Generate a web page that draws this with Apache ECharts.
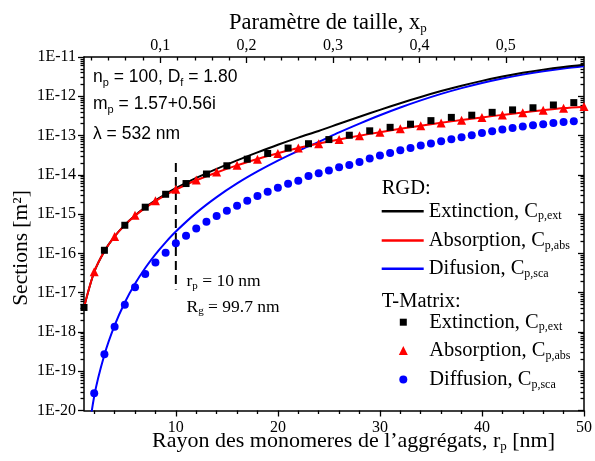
<!DOCTYPE html>
<html>
<head>
<meta charset="utf-8">
<script src="https://cdn.jsdelivr.net/npm/echarts@6/dist/echarts.min.js"></script>
<style>
html,body{margin:0;padding:0;background:#fff;}
#chart{width:595px;height:461px;}
</style>
</head>
<body>
<div id="chart"></div>
<script>
// ---- data ----
const R_RGD = [1,2,3,4,5,6,7,8,9,10,12,14,16,18,20,22,24,26,28,30,32,34,36,38,40,42,44,46,48,50];
const EXT_RGD = [4.2e-18,3.36e-17,1.14e-16,2.70e-16,5.31e-16,9.24e-16,1.48e-15,2.24e-15,3.25e-15,4.56e-15,8.34e-15,1.42e-14,2.34e-14,3.74e-14,5.85e-14,8.88e-14,1.31e-13,1.99e-13,3.01e-13,4.50e-13,6.65e-13,9.63e-13,1.36e-12,1.86e-12,2.47e-12,3.18e-12,3.95e-12,4.77e-12,5.58e-12,6.36e-12];
const ABS_RGD = [4.2e-18,3.36e-17,1.13e-16,2.69e-16,5.25e-16,9.07e-16,1.44e-15,2.15e-15,3.06e-15,4.2e-15,7.26e-15,1.15e-14,1.74e-14,2.52e-14,3.55e-14,4.8e-14,6.25e-14,7.95e-14,9.95e-14,1.22e-13,1.49e-13,1.78e-13,2.12e-13,2.48e-13,2.90e-13,3.36e-13,3.87e-13,4.42e-13,5.0e-13,5.45e-13];
const SCA_RGD = [3.6e-22,2.30e-20,2.62e-19,1.47e-18,5.63e-18,1.68e-17,4.24e-17,9.44e-17,1.91e-16,3.6e-16,1.075e-15,2.71e-15,6.04e-15,1.22e-14,2.30e-14,4.08e-14,6.9e-14,1.20e-13,2.01e-13,3.28e-13,5.16e-13,7.85e-13,1.15e-12,1.61e-12,2.18e-12,2.84e-12,3.56e-12,4.33e-12,5.08e-12,5.81e-12];

const R_TM_EXT = [1,3,5,7,9,11,13,15,17,19,21,23,25,27,29,31,33,35,37,39,41,43,45,47,49];
const EXT_TM = [4.2e-18,1.2e-16,5.2e-16,1.5e-15,3.2e-15,6.0e-15,1.05e-14,1.7e-14,2.5e-14,3.5e-14,4.8e-14,6.2e-14,7.9e-14,1.02e-13,1.32e-13,1.62e-13,1.95e-13,2.4e-13,2.9e-13,3.3e-13,3.9e-13,4.5e-13,5.1e-13,6.0e-13,6.9e-13];
const R_TM_ABS = [2,4,6,8,10,12,14,16,18,20,22,24,26,28,30,32,34,36,38,40,42,44,46,48,50];
const ABS_TM = [3.4e-17,2.7e-16,9.3e-16,2.2e-15,4.3e-15,7.4e-15,1.18e-14,1.76e-14,2.5e-14,3.5e-14,4.8e-14,6.2e-14,7.9e-14,9.9e-14,1.22e-13,1.48e-13,1.77e-13,2.1e-13,2.47e-13,2.88e-13,3.33e-13,3.83e-13,4.38e-13,4.95e-13,5.5e-13];
const R_TM_SCA = [2,3,4,5,6,7,8,9,10,11,12,13,14,15,16,17,18,19,20,21,22,23,24,25,26,27,28,29,30,31,32,33,34,35,36,37,38,39,40,41,42,43,44,45,46,47,48,49];
const SCA_TM = [2.75e-20,2.7e-19,1.35e-18,4.9e-18,1.38e-17,3.0e-17,5.9e-17,1.04e-16,1.8e-16,2.8e-16,4.3e-16,6.4e-16,8.9e-16,1.22e-15,1.63e-15,2.2e-15,2.9e-15,3.7e-15,4.7e-15,5.9e-15,7.1e-15,9.3e-15,1.10e-14,1.29e-14,1.55e-14,1.78e-14,2.13e-14,2.6e-14,3.1e-14,3.6e-14,4.2e-14,4.8e-14,5.6e-14,6.3e-14,7.2e-14,8.1e-14,9.1e-14,1.02e-13,1.17e-13,1.29e-13,1.42e-13,1.55e-13,1.70e-13,1.82e-13,1.95e-13,2.08e-13,2.2e-13,2.3e-13];

const MARK_R = 10;                 // r_p = 10 nm marker
const MARK_Y = [2e-14, 1.2e-17];

// ---- axes ticks / labels ----
const X_MIN = 1, X_MAX = 50;
const X_TICKS = [10,20,30,40,50];
const X_MINOR = [2,4,6,8,12,14,16,18,22,24,26,28,32,34,36,38,42,44,46,48];
const LAMBDA = 532;
const XP_MIN = 2*Math.PI*X_MIN/LAMBDA, XP_MAX = 2*Math.PI*X_MAX/LAMBDA;
const XP_TICKS = [0.1,0.2,0.3,0.4,0.5];
const XP_MINOR = [0.02,0.04,0.06,0.08,0.12,0.14,0.16,0.18,0.22,0.24,0.26,0.28,0.32,0.34,0.36,0.38,0.42,0.44,0.46,0.48,0.52,0.54,0.56,0.58];
const Y_DECADES = [1e-20,1e-19,1e-18,1e-17,1e-16,1e-15,1e-14,1e-13,1e-12,1e-11];
const Y_MINOR = [];
Y_DECADES.slice(0,-1).forEach(d => { for (let k=2;k<=9;k++) Y_MINOR.push(k*d); });

const SERIF = 'Liberation Serif', SANS = 'Liberation Sans';
const BLACK = '#000000', RED = '#ff0000', BLUE = '#0000ff';

const zip = (a,b) => a.map((v,i)=>[v,b[i]]);

const chart = echarts.init(document.getElementById('chart'), null, {renderer:'canvas'});

const axisLineStyle = {color:BLACK, width:1.5};
function xAx(pos, min, max, ticks, len, inside, labels, fmt, margin, showLine) {
  return {
    type:'value', position:pos, min:min, max:max,
    axisLine:{show:showLine, onZero:false, lineStyle:axisLineStyle},
    axisTick:{show:true, inside:inside, length:len, customValues:ticks, lineStyle:{color:BLACK, width:1.3}},
    axisLabel: labels ? {show:true, customValues:labels, margin:margin, color:BLACK, fontFamily:SERIF, fontSize:16, formatter:fmt} : {show:false},
    splitLine:{show:false}
  };
}
function yAx(pos, ticks, len, inside, labels, showLine) {
  return {
    type:'log', logBase:10, position:pos, min:1e-20, max:1e-11,
    axisLine:{show:showLine, onZero:false, lineStyle:axisLineStyle},
    axisTick:{show:true, inside:inside, length:len, customValues:ticks, lineStyle:{color:BLACK, width:1.3}},
    axisLabel: labels ? {show:true, customValues:labels, margin:8, color:BLACK, fontFamily:SERIF, fontSize:16,
      formatter: v => '1E' + Math.round(Math.log10(v))} : {show:false},
    splitLine:{show:false}, minorTick:{show:false}
  };
}

const xAxes = [
  xAx('bottom', X_MIN, X_MAX, X_TICKS, 6, false, X_TICKS, v=>String(v), 9, true),
  xAx('bottom', X_MIN, X_MAX, X_MINOR, 3.5, false, null, null, 0, false),
  xAx('top', XP_MIN, XP_MAX, XP_TICKS, 6, true, XP_TICKS, v=>v.toFixed(1).replace('.',','), 3, true),
  xAx('top', XP_MIN, XP_MAX, XP_MINOR, 3.5, true, null, null, 0, false)
];

const yAxes = [
  yAx('left', Y_DECADES, 6, false, Y_DECADES, true),
  yAx('left', Y_MINOR, 3.5, false, null, false),
  yAx('right', Y_DECADES, 6, true, null, true),
  yAx('right', Y_MINOR, 3.5, true, null, false)
];

const NAMES = {
  rgdExt: ['Extinction, C','p,ext'],
  rgdAbs: ['Absorption, C','p,abs'],
  rgdSca: ['Difusion, C','p,sca'],
  tmExt: ['Extinction, C','p,ext'],
  tmAbs: ['Absorption, C','p,abs'],
  tmSca: ['Diffusion, C','p,sca']
};
const legRich = (pad) => ({
  pad:{width:pad},
  m:{fontFamily:SERIF, fontSize:20.5, lineHeight:22, color:BLACK},
  s:{fontFamily:SERIF, fontSize:12, lineHeight:5, verticalAlign:'bottom', color:BLACK}
});
function legend(name, left, cy, icon, w, h, pad) {
  return {
    show:true, data:[name], left:left, top:cy-11, orient:'vertical', padding:0, itemGap:0,
    icon:icon, itemWidth:w, itemHeight:h, selectedMode:false,
    formatter: n => '{pad|}{m|' + NAMES[n][0] + '}{s|' + NAMES[n][1] + '}',
    textStyle:{rich:legRich(pad)}
  };
}
const SYM_CX = 403.3, TXT_X = 429.3;
function symLegend(name, cy, icon, s) {
  const left = SYM_CX - s/2;
  const pad = TXT_X - (left + s + 5);
  return legend(name, left, cy, icon, s, s, pad);
}

function txt(x, y, rich, text, align) {
  return {type:'text', x:x, y:y, silent:true, z:100,
    style:{text:text, rich:rich, align:align||'left', verticalAlign:'middle', fill:BLACK}};
}
const sansRich = {m:{fontFamily:SANS, fontSize:17.5, lineHeight:22, color:BLACK},
                  s:{fontFamily:SANS, fontSize:11, lineHeight:4, verticalAlign:'bottom', color:BLACK}};
const serifRich = (fs, ss) => ({m:{fontFamily:SERIF, fontSize:fs, lineHeight:fs+2, color:BLACK},
                  s:{fontFamily:SERIF, fontSize:ss, lineHeight:4, verticalAlign:'bottom', color:BLACK}});

const option = {
  backgroundColor:'#ffffff',
  animation:false,
  grid:{left:84, right:9, top:57, height:353.5, containLabel:false},
  xAxis:xAxes,
  yAxis:yAxes,
  legend:[
    legend('rgdExt', 381.7, 211.7, 'rect', 42, 2.5, 0),
    legend('rgdAbs', 381.7, 241, 'rect', 42, 2.5, 0),
    legend('rgdSca', 381.7, 269.3, 'rect', 42, 2.5, 0),
    symLegend('tmExt', 322.7, 'rect', 7),
    symLegend('tmAbs', 351, 'triangle', 9),
    symLegend('tmSca', 380, 'circle', 8)
  ],
  series:[
    {name:'marker', type:'line', data:[[MARK_R, MARK_Y[0]],[MARK_R, MARK_Y[1]]], showSymbol:false, silent:true,
     lineStyle:{color:BLACK, width:2, type:[9,5]}, z:1},
    {name:'rgdSca', type:'line', data:zip(R_RGD, SCA_RGD), showSymbol:false, smooth:0.3, lineStyle:{color:BLUE, width:2}, itemStyle:{color:BLUE}, z:2},
    {name:'rgdExt', type:'line', data:zip(R_RGD, EXT_RGD), showSymbol:false, smooth:0.3, lineStyle:{color:BLACK, width:2}, itemStyle:{color:BLACK}, z:2},
    {name:'rgdAbs', type:'line', data:zip(R_RGD, ABS_RGD), showSymbol:false, smooth:0.3, lineStyle:{color:RED, width:2}, itemStyle:{color:RED}, z:2},
    {name:'tmExt', type:'scatter', data:zip(R_TM_EXT, EXT_TM), symbol:'rect', symbolSize:7, itemStyle:{color:BLACK, opacity:1}, z:3},
    {name:'tmAbs', type:'scatter', data:zip(R_TM_ABS, ABS_TM), symbol:'triangle', symbolSize:9, itemStyle:{color:RED, opacity:1}, z:3},
    {name:'tmSca', type:'scatter', data:zip(R_TM_SCA, SCA_TM), symbol:'circle', symbolSize:8, itemStyle:{color:BLUE, opacity:1}, z:3}
  ],
  graphic:{elements:[
    txt(93, 77.5, sansRich, '{m|n}{s|p}{m| = 100, D}{s|f}{m| = 1.80}'),
    txt(93, 104, sansRich, '{m|m}{s|p}{m| = 1.57+0.56i}'),
    txt(93, 134, sansRich, '{m|λ = 532 nm}'),
    txt(186.5, 281.7, serifRich(17.5, 11), '{m|r}{s|p}{m| = 10 nm}'),
    txt(186.5, 307, serifRich(17.5, 11), '{m|R}{s|g}{m| = 99.7 nm}'),
    txt(381.7, 189, serifRich(20.5, 12), '{m|RGD:}'),
    txt(381.7, 301.7, serifRich(20.5, 12), '{m|T-Matrix:}'),
    txt(229, 23, serifRich(22.5, 13), '{m|Paramètre de taille, x}{s|p}'),
    txt(152, 441.5, serifRich(22, 13), '{m|Rayon des monomeres de l’aggrégats, r}{s|p}{m| [nm]}'),
    {type:'text', x:21, y:248, rotation:Math.PI/2, silent:true, z:100,
     style:{text:'Sections [m²]', font:'21.5px "Liberation Serif"', fill:BLACK, align:'center', verticalAlign:'middle'}}
  ]}
};
chart.setOption(option);
</script>
</body>
</html>
